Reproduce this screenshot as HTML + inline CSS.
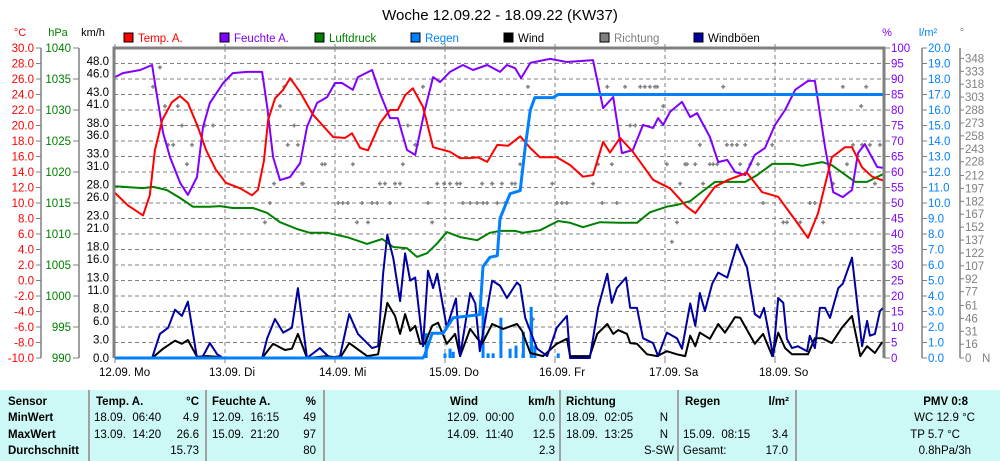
<!DOCTYPE html>
<html><head><meta charset="utf-8">
<style>
html,body{margin:0;padding:0;background:#fff;}
body{width:1000px;height:461px;overflow:hidden;position:relative;font-family:"Liberation Sans",sans-serif;}
svg text{font-family:"Liberation Sans",sans-serif;}
#tbl{position:absolute;left:0;top:390px;width:1000px;height:71px;background:#ccf8f5;font-size:11.5px;}
#tbl div{position:absolute;white-space:pre;}
.b{font-weight:bold;}
.sep{position:absolute;top:0;width:2px;height:71px;background:#a0a0a0;}
</style></head>
<body>
<svg id="chart" width="1000" height="390" xmlns="http://www.w3.org/2000/svg" style="position:absolute;left:0;top:0">
<text x="500" y="20" font-size="15" text-anchor="middle">Woche 12.09.22 - 18.09.22 (KW37)</text>
<g id="axes"></g><g id="grid"></g><g id="series"></g><g id="legend"></g>
</svg>
<div id="tbl">
<div class="sep" style="left:88px"></div><div class="sep" style="left:205px"></div><div class="sep" style="left:323px"></div>
<div class="sep" style="left:559px"></div><div class="sep" style="left:677px"></div><div class="sep" style="left:795px"></div>
<div class="b" style="left:8px;top:6px">Sensor</div>
<div class="b" style="left:8px;top:22px">MinWert</div>
<div class="b" style="left:8px;top:39px">MaxWert</div>
<div class="b" style="left:8px;top:55px">Durchschnitt</div>
<div class="b" style="left:96px;top:6px">Temp. A.</div><div class="b" style="right:801px;top:6px">°C</div>
<div style="left:94px;top:22px">18.09.  06:40</div><div style="right:801px;top:22px">4.9</div>
<div style="left:94px;top:39px">13.09.  14:20</div><div style="right:801px;top:39px">26.6</div>
<div style="right:801px;top:55px">15.73</div>
<div class="b" style="left:212px;top:6px">Feuchte A.</div><div class="b" style="right:684px;top:6px">%</div>
<div style="left:212px;top:22px">12.09.  16:15</div><div style="right:684px;top:22px">49</div>
<div style="left:212px;top:39px">15.09.  21:20</div><div style="right:684px;top:39px">97</div>
<div style="right:684px;top:55px">80</div>
<div class="b" style="right:522px;top:6px">Wind</div><div class="b" style="right:445px;top:6px">km/h</div>
<div style="left:447px;top:22px">12.09.  00:00</div><div style="right:445px;top:22px">0.0</div>
<div style="left:447px;top:39px">14.09.  11:40</div><div style="right:445px;top:39px">12.5</div>
<div style="right:445px;top:55px">2.3</div>
<div class="b" style="left:566px;top:6px">Richtung</div>
<div style="left:566px;top:22px">18.09.  02:05</div><div style="right:332px;top:22px">N</div>
<div style="left:566px;top:39px">18.09.  13:25</div><div style="right:332px;top:39px">N</div>
<div style="right:326px;top:55px">S-SW</div>
<div class="b" style="left:685px;top:6px">Regen</div><div class="b" style="right:211px;top:6px">l/m²</div>
<div style="left:683px;top:39px">15.09.  08:15</div><div style="right:212px;top:39px">3.4</div>
<div style="left:683px;top:55px">Gesamt:</div><div style="right:212px;top:55px">17.0</div>
<div class="b" style="right:32px;top:6px">PMV 0:8</div>
<div style="right:25px;top:22px">WC 12.9 °C</div>
<div style="right:40px;top:39px">TP 5.7 °C</div>
<div style="right:29px;top:55px">0.8hPa/3h</div>
</div>
<script>
// ---- data ----
const tempT=[0,2.8,6.1,7.6,8.7,10.3,12.4,14.2,15.9,17.9,19.9,22.0,24.2,27.3,29.9,31.2,32.5,33.4,34.9,36.7,38.2,40.4,43.2,47.6,50.2,51.7,53.5,55.2,56.7,57.8,60.0,61.7,63.3,65.0,67.2,69.4,73.1,75.3,77.5,79.2,81.2,83.4,85.8,88.4,90.6,92.7,96.4,99.3,102.1,104.3,106.5,108.0,110.2,113.0,117.4,121.1,124.8,126.6,130.9,133.8,137.9,141.2,144.7,148.4,151.2,153.4,156.4,159.3,160.8,163.0,165.2,167.6];
const tempV=[11.3,9.7,8.4,11.0,16.8,20.7,23.0,23.8,22.9,20.1,16.8,14.3,12.6,11.9,11.0,11.7,15.5,20.7,23.5,24.6,26.1,24.3,21.4,18.5,18.4,19.0,17.1,16.8,18.8,20.3,22.0,22.0,23.9,24.8,22.4,17.2,16.6,15.8,15.8,15.9,15.3,17.5,17.4,18.6,17.1,15.9,15.9,14.9,13.4,13.6,17.9,16.5,18.4,16.6,13.0,11.9,9.5,8.7,12.1,13.0,13.9,11.4,10.8,7.8,5.5,8.7,15.9,17.2,17.2,14.6,13.4,12.9];
const humT=[0,1.7,5.5,8.1,8.7,10.5,12.0,14.2,15.9,17.9,19.2,20.7,23.6,25.7,28.8,32.1,33.2,34.5,36.0,38.2,40.4,41.9,44.1,46.3,48.0,49.5,51.9,53.0,56.1,57.8,60.0,61.7,63.7,65.5,67.6,69.4,70.9,73.1,75.9,78.1,81.2,84.0,85.5,87.3,88.6,90.6,94.9,98.6,104.3,106.5,108.7,110.6,113.0,115.2,117.4,118.5,119.6,121.1,123.7,125.5,127.0,129.8,131.6,133.6,135.3,137.5,139.6,141.8,144.0,146.2,148.4,151.2,152.7,154.9,156.7,158.8,160.8,162.1,163.6,166.3,167.8];
const humV=[90.6,91.9,92.9,94.5,88.7,72.6,64.8,56.5,52.6,58.4,74.5,82.3,88.7,91.9,92.3,92.3,81.0,64.8,57.4,58.4,62.9,74.5,82.3,84.2,88.7,88.7,86.5,90.6,92.9,85.5,77.4,77.4,67.1,65.5,80.0,90.6,89.0,92.3,94.5,92.9,94.5,92.3,94.5,93.5,90.3,95.2,96.5,95.5,96.1,80.6,84.2,66.1,67.1,75.2,74.2,77.4,75.2,79.4,82.6,77.7,79.0,71.3,63.2,63.9,60.0,59.0,65.5,67.7,75.2,80.0,86.5,89.4,89.4,68.1,53.5,51.9,54.2,66.1,69.0,61.6,61.3];
const presT=[0,6.1,8.3,11.3,14.2,17.0,20.7,22.9,25.7,30.1,33.2,36.0,39.7,42.5,46.3,50.6,55.0,58.3,60.7,63.7,65.9,68.1,70.3,72.4,75.3,79.0,81.8,84.0,87.3,89.0,92.7,96.7,99.3,102.1,105.8,110.2,113.9,116.7,120.4,122.6,125.5,127.2,130.9,137.5,140.1,143.4,147.7,149.9,154.3,156.4,161.5,164.1,168];
const presV=[1017.7,1017.4,1017.6,1017.1,1015.8,1014.4,1014.4,1014.5,1014.2,1014.2,1013.4,1011.9,1010.8,1010.2,1010.2,1009.5,1008.4,1009.2,1007.9,1007.7,1006.3,1006.9,1008.5,1010.3,1009.5,1009.0,1010.2,1010.5,1010.5,1010.2,1010.6,1012.1,1011.8,1011.1,1011.9,1011.8,1011.8,1013.5,1014.4,1014.7,1015.3,1016.3,1018.4,1018.4,1019.5,1021.3,1021.3,1021.0,1021.6,1021.1,1018.4,1018.4,1019.8];
const rainT=[0,67.2,67.6,69.2,71.6,73.8,79.6,80.3,81.8,83.4,84.0,86.2,88.4,89.5,90.6,91.6,95.6,96.7,168];
const rainV=[0,0,0.2,1.6,1.6,2.6,2.8,5.9,6.5,6.6,9.0,10.6,10.8,13.6,16.0,16.8,16.8,17.0,17.0];
const rainBarT=[67.9,72.0,73.1,73.8,80.3,81.4,82.5,84.2,86.2,87.5,89.0,89.1,90.8,90.9,91.6,96.7];
const rainBarV=[1.6,0.3,0.6,0.4,3.3,0.3,0.3,2.6,0.6,0.8,0.3,1.7,3.3,2.6,0.8,0.3];
const gustT=[0,8.1,9.8,11.6,13.1,14.6,15.9,17.9,19.2,20.7,22.3,23.6,32.1,33.2,34.9,36.7,38.6,39.9,41.9,44.7,46.9,49.1,51.1,53.0,55.0,56.1,57.4,58.5,59.4,60.7,62.2,63.3,64.4,65.5,67.2,68.3,69.4,70.3,72.4,74.4,75.3,77.5,78.6,79.6,82.3,84.0,85.5,87.7,88.4,89.5,92.1,94.3,96.4,98.6,99.3,103.6,105.4,107.4,108.4,109.5,111.5,112.4,113.9,115.2,117.4,118.5,120.4,122.6,123.7,125.5,126.6,127.6,128.7,130.3,131.6,133.6,135.7,137.9,139.6,140.7,141.6,143.6,144.7,145.8,146.6,147.7,149.0,151.0,151.6,152.7,153.8,154.9,156.0,157.8,158.8,160.8,163.0,164.1,164.7,165.8,166.9,167.6];
const gustV=[0,0,3.9,4.9,7.8,6.8,9.1,0,0.3,2.4,0.6,0,0,3.2,6.3,4.1,4.9,11.3,0,1.6,0,0.3,7.1,3.9,2.4,1.6,1.9,13.6,19.9,16.2,9.2,16.9,12.5,13.0,1.9,14.1,11.3,13.6,4.9,9.6,0.3,10.5,8.8,1.1,12.5,11.7,9.7,12.2,11.7,6.5,1.5,0.3,4.9,6.8,0,0,8.1,13.6,8.9,11.3,13.0,8.1,8.1,3.2,2.4,0.3,4.1,3.2,1.5,8.8,5.2,10.5,7.6,12.0,13.8,13.0,18.3,14.6,7.1,6.5,8.1,0.3,9.7,8.9,3.1,1.6,1.9,1.1,3.6,1.6,8.1,8.1,6.5,11.3,12.0,16.2,1.9,6.0,3.6,3.9,7.6,8.1];
const windT=[0,8.1,10.5,13.1,14.6,15.9,17.9,20.1,22.3,23.6,32.1,34.5,37.1,38.6,39.9,41.9,46.3,49.1,51.1,55.0,57.4,59.4,61.1,62.2,63.3,64.4,65.5,66.6,67.6,69.2,70.5,72.4,74.2,75.3,77.5,79.0,80.1,82.3,84.7,87.7,88.8,90.6,93.4,96.4,98.6,99.3,103.6,105.2,107.4,108.7,109.8,111.7,112.4,113.9,116.1,118.3,120.4,122.6,124.4,125.5,126.6,127.6,129.8,131.6,133.1,135.3,136.4,139.6,141.4,143.4,144.7,146.2,147.7,151.2,152.7,154.3,156.4,158.6,160.8,162.6,164.1,165.8,167.4];
const windV=[0,0,1.5,2.8,2.3,2.9,0.2,0.3,0.2,0,0,2.3,1.3,1.5,3.9,0,0.3,0,2.4,0.3,0.6,8.9,6.8,3.9,7.1,4.4,5.2,2.3,2.3,5.2,5.7,2.3,3.9,0.3,4.7,3.2,2.3,5.5,4.7,5.5,4.4,0.8,0.3,2.3,3.1,0.3,0.3,3.9,5.5,3.9,4.5,3.9,2.4,2.3,0.6,0.3,1.1,0.6,0.3,3.6,1.9,4.1,3.1,5.5,4.1,6.6,6.5,2.3,3.9,0.3,4.1,1.6,0.6,0.6,3.2,3.2,2.4,4.9,6.8,0.3,1.9,0.8,2.6];
const dirT=[9.8,8.3,10.9,13.7,14.6,17.9,19.6,21.4,11.6,12.7,16.8,15.7,33.8,32.7,34.7,41.0,36.0,36.9,39.1,37.7,39.9,45.2,45.8,51.9,62.8,40.8,57.8,58.9,61.1,62.2,70.3,71.8,73.1,74.6,75.3,80.1,82.3,48.7,49.7,50.8,53.9,56.1,57.2,60.0,68.3,75.9,77.5,79.0,80.3,81.2,52.8,55.2,69.2,67.2,63.9,65.5,65.9,90.1,107.4,111.3,114.6,115.6,116.7,117.8,118.3,119.6,112.4,113.5,88.4,105.4,108.4,120.4,124.4,82.3,84.4,86.6,87.3,95.4,104.3,123.3,83.4,85.1,96.4,97.5,98.6,106.3,109.5,122.6,121.5,91.2,132.7,158.8,163.9,162.8,127.6,133.5,134.6,135.7,137.5,143.4,161.0,163.0,164.7,166.9,124.8,126.6,129.8,130.5,131.4,136.4,138.6,140.3,159.7,128.3,156.7,165.8,141.4,151.6,152.7,145.8,146.6,149.5,154.5];
const dirV=[337.5,315,292.5,292.5,270,270,270,270,247.5,247.5,247.5,225,180,157.5,202.5,202.5,292.5,315,270,247.5,247.5,225,225,225,225,202.5,202.5,202.5,202.5,202.5,202.5,202.5,202.5,202.5,202.5,202.5,202.5,180,180,180,180,180,180,180,180,180,180,180,180,180,157.5,157.5,157.5,315,270,247.5,247.5,315,315,315,315,315,315,315,315,292.5,270,270,225,225,225,225,225,202.5,202.5,202.5,202.5,202.5,202.5,202.5,180,180,180,180,180,180,180,157.5,135,45,315,315,315,292.5,247.5,247.5,247.5,247.5,247.5,247.5,247.5,247.5,247.5,247.5,225,225,225,225,225,225,225,225,225,202.5,202.5,202.5,180,180,180,157.5,157.5,157.5,157.5];
const tempTicks=[30,28,26,24,22,20,18,16,14,12,10,8,6,4,2,0,-2,-4,-6,-8,-10];
const hpaTicks=[1040,1035,1030,1025,1020,1015,1010,1005,1000,995,990];
const kmhTicks=[48,46,43,41,38,36,33,31,28,26,23,21,18,16,13,11,8,6,3,0];
const pctTicks=[100,95,90,85,80,75,70,65,60,55,50,45,40,35,30,25,20,15,10,5,0];
const rainTicks=[20,19,18,17,16,15,14,13,12,11,10,9,8,7,6,5,4,3,2,1,0];
const dirTicks=[348,333,318,303,288,273,258,243,228,212,197,182,167,152,137,122,107,92,77,61,46,31,16,0];
const dayLabels=["12.09. Mo","13.09. Di","14.09. Mi","15.09. Do","16.09. Fr","17.09. Sa","18.09. So"];
// ---- scales ----
const X0=114,X1=884,Y0=48,Y1=358;
const xT=t=>115+t*110/24;
const yTemp=v=>Y0+(30-v)*7.75;
const yPct=v=>Y0+(100-v)*3.1;
const yHpa=v=>Y0+(1040-v)*6.2;
const yKmh=v=>358-v*6.19;
const yRain=v=>358-v*15.5;
const yDir=v=>358-v*0.861;
const NS="http://www.w3.org/2000/svg";
function mk(tag,attrs,parent,txt){const e=document.createElementNS(NS,tag);for(const k in attrs)e.setAttribute(k,attrs[k]);if(txt!==undefined)e.textContent=txt;parent.appendChild(e);return e;}
const axes=document.getElementById('axes'),grid=document.getElementById('grid'),ser=document.getElementById('series'),leg=document.getElementById('legend');
[["°C",20,"#f00"],["hPa",58,"#008000"],["km/h",93,"#000"],["%",887,"#8000ff"],["l/m²",928,"#0080ff"],["°",962,"#808080"]].forEach(u=>{
 const e=mk('text',{x:u[1],y:36,'font-size':11,fill:u[2],'text-anchor':'middle'},axes,u[0]);
 });
mk('line',{x1:41,y1:Y0,x2:41,y2:Y1,stroke:'#808080','stroke-width':1.5},axes);
mk('line',{x1:79,y1:Y0,x2:79,y2:Y1,stroke:'#808080','stroke-width':1.5},axes);
tempTicks.forEach(v=>{const y=yTemp(v);mk('line',{x1:36,y1:y,x2:41,y2:y,stroke:'#808080'},axes);
 const e=mk('text',{x:34,y:y+4,'font-size':11.5,fill:'#f00','text-anchor':'end'},axes,v.toFixed(1));
 });
hpaTicks.forEach(v=>{const y=yHpa(v);mk('line',{x1:73,y1:y,x2:79,y2:y,stroke:'#808080'},axes);
 const e=mk('text',{x:71,y:y+4,'font-size':11.5,fill:'#008000','text-anchor':'end'},axes,String(v));
 });
kmhTicks.forEach(v=>{const y=yKmh(v);
 const e=mk('text',{x:109,y:y+4,'font-size':11.5,fill:'#000','text-anchor':'end'},axes,v.toFixed(1));
 });
for(let k=1;k<20;k++){const y=Y0+k*15.5;mk('line',{x1:X0,y1:y,x2:X1,y2:y,stroke:'#808080','stroke-dasharray':'4,3'},grid);}
dayLabels.forEach((d,i)=>{const x=xT(i*24);
 if(i>0)mk('line',{x1:x,y1:Y0,x2:x,y2:Y1,stroke:'#808080','stroke-dasharray':'4,3'},grid);
 mk('line',{x1:x,y1:Y0-4,x2:x,y2:Y0,stroke:'#808080'},grid);
 mk('line',{x1:x,y1:Y1,x2:x,y2:Y1+5,stroke:'#808080'},grid);
 const e=mk('text',{x:x-16,y:376,'font-size':11.5,fill:'#000'},axes,d);
 });
mk('line',{x1:922,y1:Y0,x2:922,y2:Y1,stroke:'#808080','stroke-width':1.5},axes);
mk('line',{x1:960,y1:Y0,x2:960,y2:Y1,stroke:'#808080','stroke-width':1.5},axes);
pctTicks.forEach(v=>{const y=yPct(v);mk('line',{x1:884,y1:y,x2:890,y2:y,stroke:'#808080'},axes);
 const e=mk('text',{x:891,y:y+4,'font-size':11.5,fill:'#8000ff'},axes,String(v));
 });
rainTicks.forEach(v=>{const y=yRain(v);mk('line',{x1:922,y1:y,x2:927,y2:y,stroke:'#808080'},axes);
 const e=mk('text',{x:928,y:y+4,'font-size':11.5,fill:'#0080ff'},axes,v.toFixed(1));
 });
dirTicks.forEach(v=>{const y=yDir(v);mk('line',{x1:960,y1:y,x2:964,y2:y,stroke:'#808080'},axes);
 const e=mk('text',{x:965,y:y+4,'font-size':11.5,fill:'#808080'},axes,String(v));
 });
{const e=mk('text',{x:982,y:362,'font-size':11.5,fill:'#808080'},axes,'N');}
function line(T,V,yf,color,name,w){let d='';T.forEach((t,i)=>{d+=(i?'L':'M')+xT(t).toFixed(1)+','+yf(V[i]).toFixed(1);});
 const p=mk('path',{d:d,fill:'none',stroke:color,'stroke-width':w||2,'stroke-linejoin':'round'},ser);
 }
dirT.forEach((t,i)=>{const x=xT(t),y=yDir(dirV[i]);
 const p=mk('path',{d:`M${x-2},${y}h4M${x},${y-2}v4`,stroke:'#808080','stroke-width':1.5},ser);
 });
rainBarT.forEach((t,i)=>{const x=xT(t),y=yRain(rainBarV[i]);
 const r=mk('rect',{x:x-1.5,y:y,width:3,height:358-y,fill:'#0080ff'},ser);
 });
line(presT,presV,yHpa,'#008000','pressure-line');
line(windT,windV,yKmh,'#000','wind-line');
line(gustT,gustV,yKmh,'#0000a0','gust-line');
line(humT,humV,yPct,'#8000ff','humidity-line');
line(tempT,tempV,yTemp,'#ff0000','temperature-line');
line(rainT,rainV,yRain,'#0080ff','rain-total-line',3);
mk('path',{d:`M${X0},${Y1}V${Y0}H${X1}V${Y1}`,fill:'none',stroke:'#808080','stroke-width':3},ser);
[["Temp. A.","#f00","#f00",124],["Feuchte A.","#8000ff","#8000ff",220],["Luftdruck","#008000","#008000",315],["Regen","#0080ff","#0080ff",411],["Wind","#000","#000",504],["Richtung","#808080","#808080",600],["Windböen","#0000a0","#000",694]].forEach(l=>{
 const g=mk('g',{},leg);
 mk('rect',{x:l[3],y:33,width:9,height:9,fill:l[1],stroke:'#000'},g);
 mk('text',{x:l[3]+14,y:42,'font-size':11.5,fill:l[2]},g,l[0]);});
</script>
</body></html>
